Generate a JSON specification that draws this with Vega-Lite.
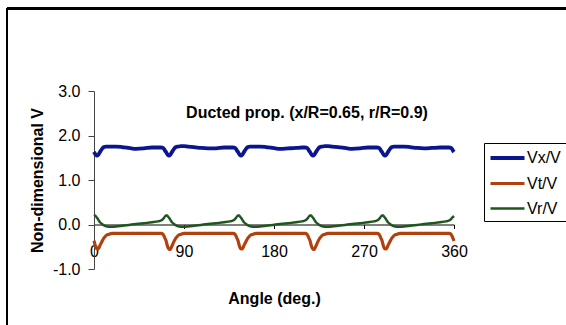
{
  "$schema": "https://vega.github.io/schema/vega-lite/v6.json",
  "width": 360,
  "height": 178,
  "autosize": {"type": "none"},
  "padding": {"left": 94, "top": 91, "right": 112, "bottom": 56},
  "background": "white",
  "config": {
    "font": "Liberation Sans",
    "view": {"stroke": null},
    "axis": {"grid": false, "labelColor": "black", "titleColor": "black", "tickColor": "black", "domainColor": "black", "labelFont": "Liberation Sans", "titleFont": "Liberation Sans"}
  },
  "title": {"text": "Ducted prop. (x/R=0.65, r/R=0.9)", "fontSize": 16, "fontWeight": "bold", "anchor": "middle", "dx": 33, "offset": -114, "color": "black", "font": "Liberation Sans"},
  "data": {"values": [
    {"a": 0, "Vx/V": 1.63, "Vt/V": -0.36, "Vr/V": 0.19},
    {"a": 1, "Vx/V": 1.59, "Vt/V": -0.45, "Vr/V": 0.2},
    {"a": 2, "Vx/V": 1.56, "Vt/V": -0.52, "Vr/V": 0.18},
    {"a": 3, "Vx/V": 1.55, "Vt/V": -0.55, "Vr/V": 0.15},
    {"a": 4, "Vx/V": 1.56, "Vt/V": -0.55, "Vr/V": 0.12},
    {"a": 5, "Vx/V": 1.59, "Vt/V": -0.52, "Vr/V": 0.08},
    {"a": 6, "Vx/V": 1.63, "Vt/V": -0.47, "Vr/V": 0.05},
    {"a": 8, "Vx/V": 1.7, "Vt/V": -0.38, "Vr/V": 0.01},
    {"a": 10, "Vx/V": 1.74, "Vt/V": -0.3, "Vr/V": -0.02},
    {"a": 12, "Vx/V": 1.75, "Vt/V": -0.25, "Vr/V": -0.04},
    {"a": 15, "Vx/V": 1.75, "Vt/V": -0.22, "Vr/V": -0.05},
    {"a": 18, "Vx/V": 1.75, "Vt/V": -0.2, "Vr/V": -0.05},
    {"a": 22, "Vx/V": 1.75, "Vt/V": -0.2, "Vr/V": -0.045},
    {"a": 28, "Vx/V": 1.74, "Vt/V": -0.2, "Vr/V": -0.03},
    {"a": 35, "Vx/V": 1.72, "Vt/V": -0.2, "Vr/V": -0.01},
    {"a": 42, "Vx/V": 1.7, "Vt/V": -0.2, "Vr/V": 0.01},
    {"a": 50, "Vx/V": 1.71, "Vt/V": -0.2, "Vr/V": 0.03},
    {"a": 58, "Vx/V": 1.73, "Vt/V": -0.2, "Vr/V": 0.05},
    {"a": 64, "Vx/V": 1.73, "Vt/V": -0.2, "Vr/V": 0.07},
    {"a": 67, "Vx/V": 1.73, "Vt/V": -0.2, "Vr/V": 0.09},
    {"a": 69, "Vx/V": 1.72, "Vt/V": -0.22, "Vr/V": 0.12},
    {"a": 70, "Vx/V": 1.7, "Vt/V": -0.26, "Vr/V": 0.15},
    {"a": 71, "Vx/V": 1.66, "Vt/V": -0.31, "Vr/V": 0.18},
    {"a": 72, "Vx/V": 1.63, "Vt/V": -0.36, "Vr/V": 0.2},
    {"a": 73, "Vx/V": 1.59, "Vt/V": -0.45, "Vr/V": 0.2},
    {"a": 74, "Vx/V": 1.56, "Vt/V": -0.52, "Vr/V": 0.18},
    {"a": 75, "Vx/V": 1.55, "Vt/V": -0.55, "Vr/V": 0.15},
    {"a": 76, "Vx/V": 1.56, "Vt/V": -0.56, "Vr/V": 0.12},
    {"a": 77, "Vx/V": 1.59, "Vt/V": -0.53, "Vr/V": 0.08},
    {"a": 78, "Vx/V": 1.63, "Vt/V": -0.48, "Vr/V": 0.05},
    {"a": 80, "Vx/V": 1.7, "Vt/V": -0.38, "Vr/V": 0.01},
    {"a": 82, "Vx/V": 1.74, "Vt/V": -0.3, "Vr/V": -0.02},
    {"a": 84, "Vx/V": 1.75, "Vt/V": -0.25, "Vr/V": -0.04},
    {"a": 87, "Vx/V": 1.76, "Vt/V": -0.22, "Vr/V": -0.05},
    {"a": 90, "Vx/V": 1.76, "Vt/V": -0.2, "Vr/V": -0.05},
    {"a": 94, "Vx/V": 1.75, "Vt/V": -0.2, "Vr/V": -0.045},
    {"a": 100, "Vx/V": 1.74, "Vt/V": -0.2, "Vr/V": -0.03},
    {"a": 107, "Vx/V": 1.72, "Vt/V": -0.2, "Vr/V": -0.01},
    {"a": 114, "Vx/V": 1.71, "Vt/V": -0.2, "Vr/V": 0.01},
    {"a": 122, "Vx/V": 1.71, "Vt/V": -0.2, "Vr/V": 0.03},
    {"a": 130, "Vx/V": 1.73, "Vt/V": -0.2, "Vr/V": 0.05},
    {"a": 136, "Vx/V": 1.73, "Vt/V": -0.2, "Vr/V": 0.07},
    {"a": 139, "Vx/V": 1.73, "Vt/V": -0.2, "Vr/V": 0.09},
    {"a": 141, "Vx/V": 1.72, "Vt/V": -0.22, "Vr/V": 0.12},
    {"a": 142, "Vx/V": 1.7, "Vt/V": -0.26, "Vr/V": 0.15},
    {"a": 143, "Vx/V": 1.66, "Vt/V": -0.31, "Vr/V": 0.18},
    {"a": 144, "Vx/V": 1.63, "Vt/V": -0.36, "Vr/V": 0.2},
    {"a": 145, "Vx/V": 1.59, "Vt/V": -0.45, "Vr/V": 0.2},
    {"a": 146, "Vx/V": 1.56, "Vt/V": -0.52, "Vr/V": 0.18},
    {"a": 147, "Vx/V": 1.55, "Vt/V": -0.55, "Vr/V": 0.15},
    {"a": 148, "Vx/V": 1.56, "Vt/V": -0.55, "Vr/V": 0.12},
    {"a": 149, "Vx/V": 1.59, "Vt/V": -0.52, "Vr/V": 0.08},
    {"a": 150, "Vx/V": 1.63, "Vt/V": -0.47, "Vr/V": 0.05},
    {"a": 152, "Vx/V": 1.7, "Vt/V": -0.38, "Vr/V": 0.01},
    {"a": 154, "Vx/V": 1.74, "Vt/V": -0.3, "Vr/V": -0.02},
    {"a": 156, "Vx/V": 1.75, "Vt/V": -0.25, "Vr/V": -0.04},
    {"a": 159, "Vx/V": 1.75, "Vt/V": -0.22, "Vr/V": -0.05},
    {"a": 162, "Vx/V": 1.75, "Vt/V": -0.2, "Vr/V": -0.05},
    {"a": 166, "Vx/V": 1.75, "Vt/V": -0.2, "Vr/V": -0.045},
    {"a": 172, "Vx/V": 1.74, "Vt/V": -0.2, "Vr/V": -0.03},
    {"a": 179, "Vx/V": 1.72, "Vt/V": -0.2, "Vr/V": -0.01},
    {"a": 186, "Vx/V": 1.7, "Vt/V": -0.2, "Vr/V": 0.01},
    {"a": 194, "Vx/V": 1.71, "Vt/V": -0.2, "Vr/V": 0.03},
    {"a": 202, "Vx/V": 1.72, "Vt/V": -0.2, "Vr/V": 0.05},
    {"a": 208, "Vx/V": 1.73, "Vt/V": -0.2, "Vr/V": 0.07},
    {"a": 211, "Vx/V": 1.73, "Vt/V": -0.2, "Vr/V": 0.09},
    {"a": 213, "Vx/V": 1.72, "Vt/V": -0.22, "Vr/V": 0.12},
    {"a": 214, "Vx/V": 1.7, "Vt/V": -0.26, "Vr/V": 0.15},
    {"a": 215, "Vx/V": 1.66, "Vt/V": -0.31, "Vr/V": 0.18},
    {"a": 216, "Vx/V": 1.63, "Vt/V": -0.36, "Vr/V": 0.2},
    {"a": 217, "Vx/V": 1.59, "Vt/V": -0.45, "Vr/V": 0.2},
    {"a": 218, "Vx/V": 1.56, "Vt/V": -0.52, "Vr/V": 0.18},
    {"a": 219, "Vx/V": 1.55, "Vt/V": -0.55, "Vr/V": 0.15},
    {"a": 220, "Vx/V": 1.56, "Vt/V": -0.56, "Vr/V": 0.12},
    {"a": 221, "Vx/V": 1.59, "Vt/V": -0.53, "Vr/V": 0.08},
    {"a": 222, "Vx/V": 1.63, "Vt/V": -0.48, "Vr/V": 0.05},
    {"a": 224, "Vx/V": 1.7, "Vt/V": -0.38, "Vr/V": 0.01},
    {"a": 226, "Vx/V": 1.74, "Vt/V": -0.3, "Vr/V": -0.02},
    {"a": 228, "Vx/V": 1.75, "Vt/V": -0.25, "Vr/V": -0.04},
    {"a": 231, "Vx/V": 1.76, "Vt/V": -0.22, "Vr/V": -0.05},
    {"a": 234, "Vx/V": 1.76, "Vt/V": -0.2, "Vr/V": -0.05},
    {"a": 238, "Vx/V": 1.75, "Vt/V": -0.2, "Vr/V": -0.045},
    {"a": 244, "Vx/V": 1.74, "Vt/V": -0.2, "Vr/V": -0.03},
    {"a": 251, "Vx/V": 1.72, "Vt/V": -0.2, "Vr/V": -0.01},
    {"a": 258, "Vx/V": 1.7, "Vt/V": -0.2, "Vr/V": 0.01},
    {"a": 266, "Vx/V": 1.71, "Vt/V": -0.2, "Vr/V": 0.03},
    {"a": 274, "Vx/V": 1.73, "Vt/V": -0.2, "Vr/V": 0.05},
    {"a": 280, "Vx/V": 1.73, "Vt/V": -0.2, "Vr/V": 0.07},
    {"a": 283, "Vx/V": 1.73, "Vt/V": -0.2, "Vr/V": 0.09},
    {"a": 285, "Vx/V": 1.72, "Vt/V": -0.22, "Vr/V": 0.12},
    {"a": 286, "Vx/V": 1.7, "Vt/V": -0.26, "Vr/V": 0.15},
    {"a": 287, "Vx/V": 1.66, "Vt/V": -0.31, "Vr/V": 0.18},
    {"a": 288, "Vx/V": 1.63, "Vt/V": -0.36, "Vr/V": 0.2},
    {"a": 289, "Vx/V": 1.59, "Vt/V": -0.45, "Vr/V": 0.2},
    {"a": 290, "Vx/V": 1.56, "Vt/V": -0.52, "Vr/V": 0.18},
    {"a": 291, "Vx/V": 1.55, "Vt/V": -0.55, "Vr/V": 0.15},
    {"a": 292, "Vx/V": 1.56, "Vt/V": -0.55, "Vr/V": 0.12},
    {"a": 293, "Vx/V": 1.59, "Vt/V": -0.52, "Vr/V": 0.08},
    {"a": 294, "Vx/V": 1.63, "Vt/V": -0.47, "Vr/V": 0.05},
    {"a": 296, "Vx/V": 1.7, "Vt/V": -0.38, "Vr/V": 0.01},
    {"a": 298, "Vx/V": 1.74, "Vt/V": -0.3, "Vr/V": -0.02},
    {"a": 300, "Vx/V": 1.75, "Vt/V": -0.25, "Vr/V": -0.04},
    {"a": 303, "Vx/V": 1.75, "Vt/V": -0.22, "Vr/V": -0.05},
    {"a": 306, "Vx/V": 1.75, "Vt/V": -0.2, "Vr/V": -0.05},
    {"a": 310, "Vx/V": 1.75, "Vt/V": -0.2, "Vr/V": -0.045},
    {"a": 316, "Vx/V": 1.74, "Vt/V": -0.2, "Vr/V": -0.03},
    {"a": 323, "Vx/V": 1.72, "Vt/V": -0.2, "Vr/V": -0.01},
    {"a": 330, "Vx/V": 1.71, "Vt/V": -0.2, "Vr/V": 0.01},
    {"a": 338, "Vx/V": 1.72, "Vt/V": -0.2, "Vr/V": 0.03},
    {"a": 346, "Vx/V": 1.73, "Vt/V": -0.2, "Vr/V": 0.05},
    {"a": 352, "Vx/V": 1.73, "Vt/V": -0.2, "Vr/V": 0.07},
    {"a": 355, "Vx/V": 1.73, "Vt/V": -0.2, "Vr/V": 0.09},
    {"a": 357, "Vx/V": 1.72, "Vt/V": -0.22, "Vr/V": 0.12},
    {"a": 358, "Vx/V": 1.7, "Vt/V": -0.26, "Vr/V": 0.15},
    {"a": 359, "Vx/V": 1.66, "Vt/V": -0.31, "Vr/V": 0.17},
    {"a": 360, "Vx/V": 1.63, "Vt/V": -0.37, "Vr/V": 0.19}
  ]},
  "layer": [
    {
      "mark": {"type": "rule", "color": "black", "strokeWidth": 2},
      "encoding": {
        "x": {"datum": -87, "type": "quantitative", "scale": {"domain": [0, 360]}},
        "y": {"datum": 4.86, "type": "quantitative", "scale": {"domain": [-1, 3]}},
        "y2": {"datum": -2.4}
      }
    },
    {
      "mark": {"type": "rule", "color": "black", "strokeWidth": 2},
      "encoding": {
        "x": {"datum": -87, "type": "quantitative", "scale": {"domain": [0, 360]}},
        "x2": {"datum": 480},
        "y": {"datum": 4.86, "type": "quantitative", "scale": {"domain": [-1, 3]}}
      }
    },
    {
      "transform": [{"fold": ["Vx/V", "Vt/V", "Vr/V"], "as": ["series", "value"]}],
      "mark": {"type": "line", "interpolate": "monotone"},
      "encoding": {
        "x": {
          "field": "a", "type": "quantitative",
          "scale": {"domain": [0, 360]},
          "axis": {"values": [0, 90, 180, 270, 360], "title": "Angle (deg.)", "offset": -44.5, "tickSize": 4, "labelPadding": 15, "labelFontSize": 16, "titleFontSize": 16, "titleFontWeight": "bold", "titlePadding": 31, "labelFlush": false, "labelOverlap": false}
        },
        "y": {
          "field": "value", "type": "quantitative",
          "scale": {"domain": [-1, 3]},
          "axis": {"values": [-1, 0, 1, 2, 3], "labelExpr": "replace(format(datum.value, '.1f'), '\u2212', '-')", "title": "Non-dimensional V", "tickSize": 6, "labelPadding": 8, "labelFontSize": 16, "titleFontSize": 16, "titleFontWeight": "bold", "titlePadding": 7, "domainColor": "#444444", "tickColor": "#444444"}
        },
        "color": {
          "field": "series", "type": "nominal",
          "scale": {"domain": ["Vx/V", "Vt/V", "Vr/V"], "range": ["#0B168E", "#B0400E", "#1E561E"]},
          "legend": {"title": null, "orient": "none", "legendX": 390, "legendY": 52, "symbolType": "M-2,0H2", "symbolSize": 289, "symbolOffset": 8.5, "labelFontSize": 16, "labelOffset": 9, "rowPadding": 6.5, "padding": 4.5, "strokeColor": "black", "fillColor": "white", "labelColor": "black", "labelFont": "Liberation Sans", "labelLimit": 100}
        },
        "strokeWidth": {
          "field": "series", "type": "nominal",
          "scale": {"domain": ["Vx/V", "Vt/V", "Vr/V"], "range": [3.8, 2.5, 1.1]},
          "legend": {"title": null, "orient": "none", "legendX": 390, "legendY": 52, "symbolType": "M-2,0H2", "symbolSize": 289, "symbolOffset": 8.5, "labelFontSize": 16, "labelOffset": 9, "rowPadding": 6.5, "padding": 4.5, "strokeColor": "black", "fillColor": "white", "labelColor": "black", "labelFont": "Liberation Sans", "labelLimit": 100}
        }
      }
    }
  ]
}
